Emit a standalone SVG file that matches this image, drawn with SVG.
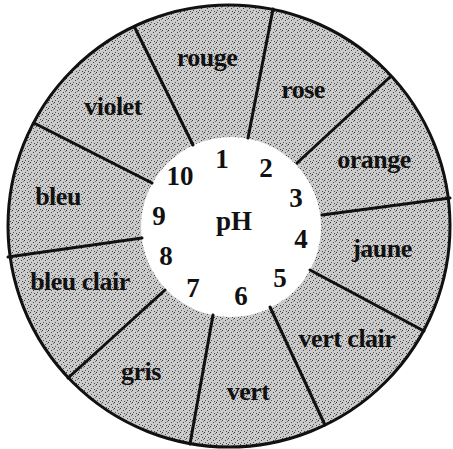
<svg xmlns="http://www.w3.org/2000/svg" width="453" height="449" viewBox="0 0 453 449">
<defs>
<style>
.lbl{font-family:"Liberation Serif","Times New Roman",serif;font-weight:bold;font-size:26px;fill:#111;text-anchor:middle;letter-spacing:-0.5px}
.num{font-family:"Liberation Serif","Times New Roman",serif;font-weight:bold;font-size:27px;fill:#111;text-anchor:middle}
.div{stroke:#111;stroke-width:3;stroke-linecap:round}
</style>
<pattern id="stip" width="6" height="6" patternUnits="userSpaceOnUse">
<rect width="6" height="6" fill="#cbcbcb"/>
<rect x="0" y="0" width="1" height="1" fill="#333"/>
<rect x="3" y="2" width="1" height="1" fill="#444"/>
<rect x="1" y="4" width="1" height="1" fill="#555"/>
<rect x="4" y="5" width="1" height="1" fill="#444"/>
<rect x="5" y="1" width="1" height="1" fill="#777"/>
</pattern>
</defs>
<rect width="453" height="449" fill="#fff"/>
<g id="wheel">
<circle cx="229" cy="226" r="221" fill="url(#stip)" stroke="#111" stroke-width="3"/>
<circle cx="231" cy="227" r="90" fill="#fff"/>
</g>
<g id="connectors">
<line class="div" x1="193" y1="145" x2="135" y2="28"/>
<line class="div" x1="248" y1="138" x2="273" y2="9"/>
<line class="div" x1="297" y1="163" x2="390" y2="77"/>
<line class="div" x1="322" y1="215" x2="450" y2="198"/>
<line class="div" x1="310" y1="270" x2="424" y2="331"/>
<line class="div" x1="270" y1="307" x2="325" y2="425"/>
<line class="div" x1="213" y1="315" x2="190" y2="444"/>
<line class="div" x1="165" y1="290" x2="68" y2="378"/>
<line class="div" x1="142" y1="238" x2="8" y2="257"/>
<line class="div" x1="152" y1="183" x2="34" y2="123"/>
</g>
<g id="labels">
<text class="lbl" x="207" y="66">rouge</text>
<text class="lbl" x="303" y="98">rose</text>
<text class="lbl" x="374" y="168">orange</text>
<text class="lbl" x="382" y="257">jaune</text>
<text class="lbl" x="347" y="347">vert clair</text>
<text class="lbl" x="248" y="400">vert</text>
<text class="lbl" x="141" y="380">gris</text>
<text class="lbl" x="80" y="290">bleu clair</text>
<text class="lbl" x="58" y="205">bleu</text>
<text class="lbl" x="113" y="115">violet</text>
</g>
<g id="center">
<text class="num" x="222" y="168">1</text>
<text class="num" x="266" y="177">2</text>
<text class="num" x="296" y="207">3</text>
<text class="num" x="301" y="248">4</text>
<text class="num" x="280" y="287">5</text>
<text class="num" x="241" y="305">6</text>
<text class="num" x="193" y="297">7</text>
<text class="num" x="166" y="265">8</text>
<text class="num" x="159" y="225">9</text>
<text class="num" x="180" y="185">10</text>
<text class="num" x="234" y="230">pH</text>
</g>
</svg>
